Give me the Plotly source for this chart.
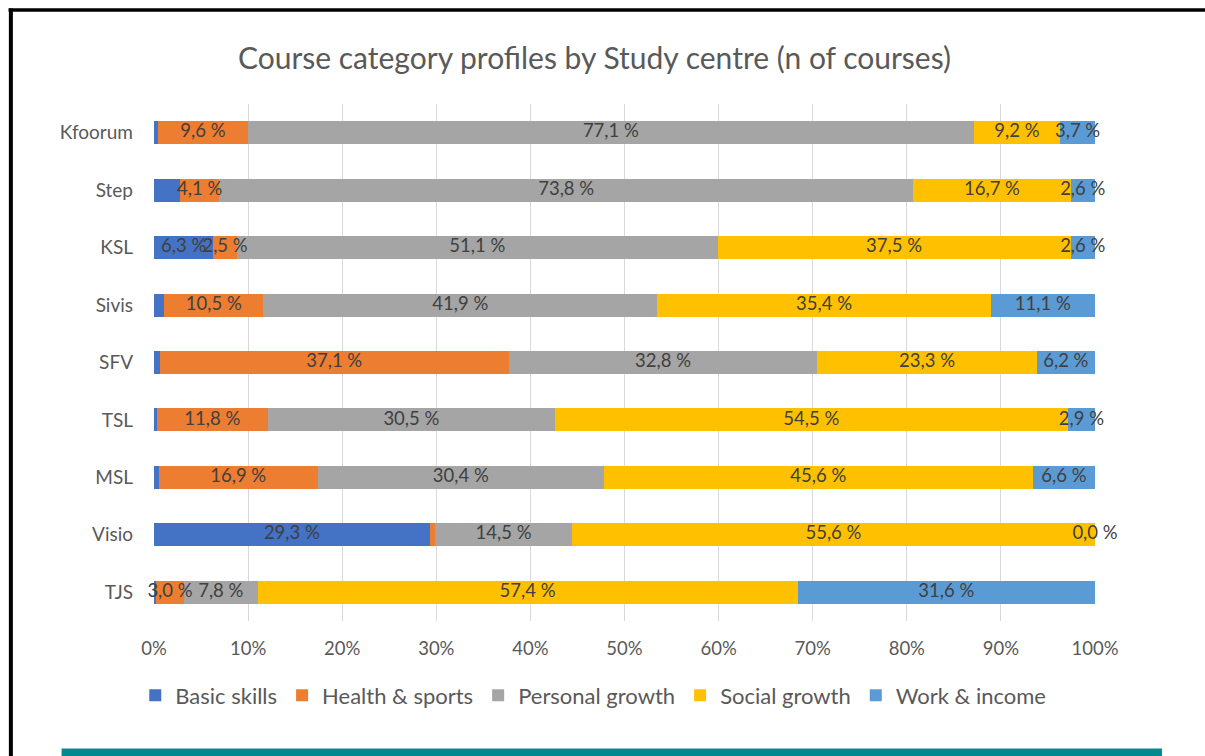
import plotly.graph_objects as go

# ---- data ----
centres = ["Kfoorum", "Step", "KSL", "Sivis", "SFV", "TSL", "MSL", "Visio", "TJS"]
series_names = ["Basic skills", "Health & sports", "Personal growth", "Social growth", "Work & income"]
basic_skills    = [0.4, 2.8, 6.3, 1.1, 0.6, 0.3, 0.5, 29.3, 0.2]
health_sports   = [9.6, 4.1, 2.5, 10.5, 37.1, 11.8, 16.9, 0.6, 3.0]
personal_growth = [77.1, 73.8, 51.1, 41.9, 32.8, 30.5, 30.4, 14.5, 7.8]
social_growth   = [9.2, 16.7, 37.5, 35.4, 23.3, 54.5, 45.6, 55.6, 57.4]
work_income     = [3.7, 2.6, 2.6, 11.1, 6.2, 2.9, 6.6, 0.0, 31.6]
tick_values = [0, 10, 20, 30, 40, 50, 60, 70, 80, 90, 100]
tick_labels = ["0%", "10%", "20%", "30%", "40%", "50%", "60%", "70%", "80%", "90%", "100%"]
# data labels that are not shown in the original
hidden_labels = {
    ("Basic skills", "Kfoorum"), ("Basic skills", "Step"), ("Basic skills", "Sivis"),
    ("Basic skills", "SFV"), ("Basic skills", "TSL"), ("Basic skills", "MSL"),
    ("Basic skills", "TJS"), ("Health & sports", "Visio"),
}

series_values = [basic_skills, health_sports, personal_growth, social_growth, work_income]
colors = ["#4472C4", "#ED7D31", "#A5A5A5", "#FFC000", "#5B9BD5"]

FONT = "Lato"
fig = go.Figure()

for name, vals, col in zip(series_names, series_values, colors):
    fig.add_trace(go.Bar(
        name=name, y=centres, x=vals, orientation="h",
        marker=dict(color=col, line=dict(width=0)),
        hoverinfo="x+y+name",
    ))

# data labels centred on each segment
starts = [0.0] * len(centres)
for name, vals in zip(series_names, series_values):
    mids, texts = [], []
    for i, (c, v) in enumerate(zip(centres, vals)):
        mids.append(starts[i] + v / 2)
        texts.append("" if (name, c) in hidden_labels else f"{v:.1f} %".replace(".", ","))
        starts[i] += v
    fig.add_trace(go.Scatter(
        x=mids, y=centres, mode="text", text=texts, textposition="middle center",
        textfont=dict(family=FONT, size=18.5, color="#404040"),
        showlegend=False, hoverinfo="skip", cliponaxis=False,
    ))

L, R, T, B = 153.5, 1095.0, 104.3, 620.7
PW, PH = R - L, B - T
def px(x):
    return (x - L) / PW
def py(y):
    return (B - y) / PH

fig.update_layout(
    width=1205, height=756,
    margin=dict(l=L, r=1205 - R, t=T, b=756 - B, pad=0),
    paper_bgcolor="white", plot_bgcolor="white",
    barmode="stack", bargap=0.6,
    font=dict(family=FONT, color="#595959"),
    title=dict(
        text="Course category profiles by Study centre (n of courses)",
        font=dict(family=FONT, size=30, color="#595959"),
        x=594.5 / 1205, xref="container", xanchor="center",
        y=1 - 58 / 756, yref="container", yanchor="middle",
    ),
    xaxis=dict(
        range=[0, 100], tickvals=tick_values, ticktext=tick_labels,
        showgrid=True, gridcolor="#D9D9D9", gridwidth=1,
        zeroline=False, showline=False, ticks="",
        tickfont=dict(family=FONT, size=18.5, color="#595959"),
        ticklabelstandoff=14, fixedrange=True,
    ),
    yaxis=dict(
        autorange="reversed", showgrid=False, zeroline=False, showline=False, ticks="",
        tickfont=dict(family=FONT, size=19, color="#595959"),
        ticklabelstandoff=20, fixedrange=True,
    ),
    legend=dict(
        orientation="h", x=px(593), xanchor="center", y=py(695), yanchor="middle",
        font=dict(family=FONT, size=22, color="#595959"),
        traceorder="normal", itemclick=False, itemdoubleclick=False,
    ),
    showlegend=True,
    shapes=[
        dict(type="line", xref="paper", yref="paper", x0=px(10.3), x1=px(10.3),
             y0=py(9), y1=py(760), line=dict(color="black", width=4)),
        dict(type="line", xref="paper", yref="paper", x0=px(8), x1=px(1210),
             y0=py(10.5), y1=py(10.5), line=dict(color="black", width=3.5)),
        dict(type="rect", xref="paper", yref="paper", x0=px(61), x1=px(1162),
             y0=py(760), y1=py(748), line=dict(width=0), fillcolor="#00898F"),
    ],
)

fig.write_html("out.html", config={"displayModeBar": False},
               post_script="document.body.style.margin='0';")
